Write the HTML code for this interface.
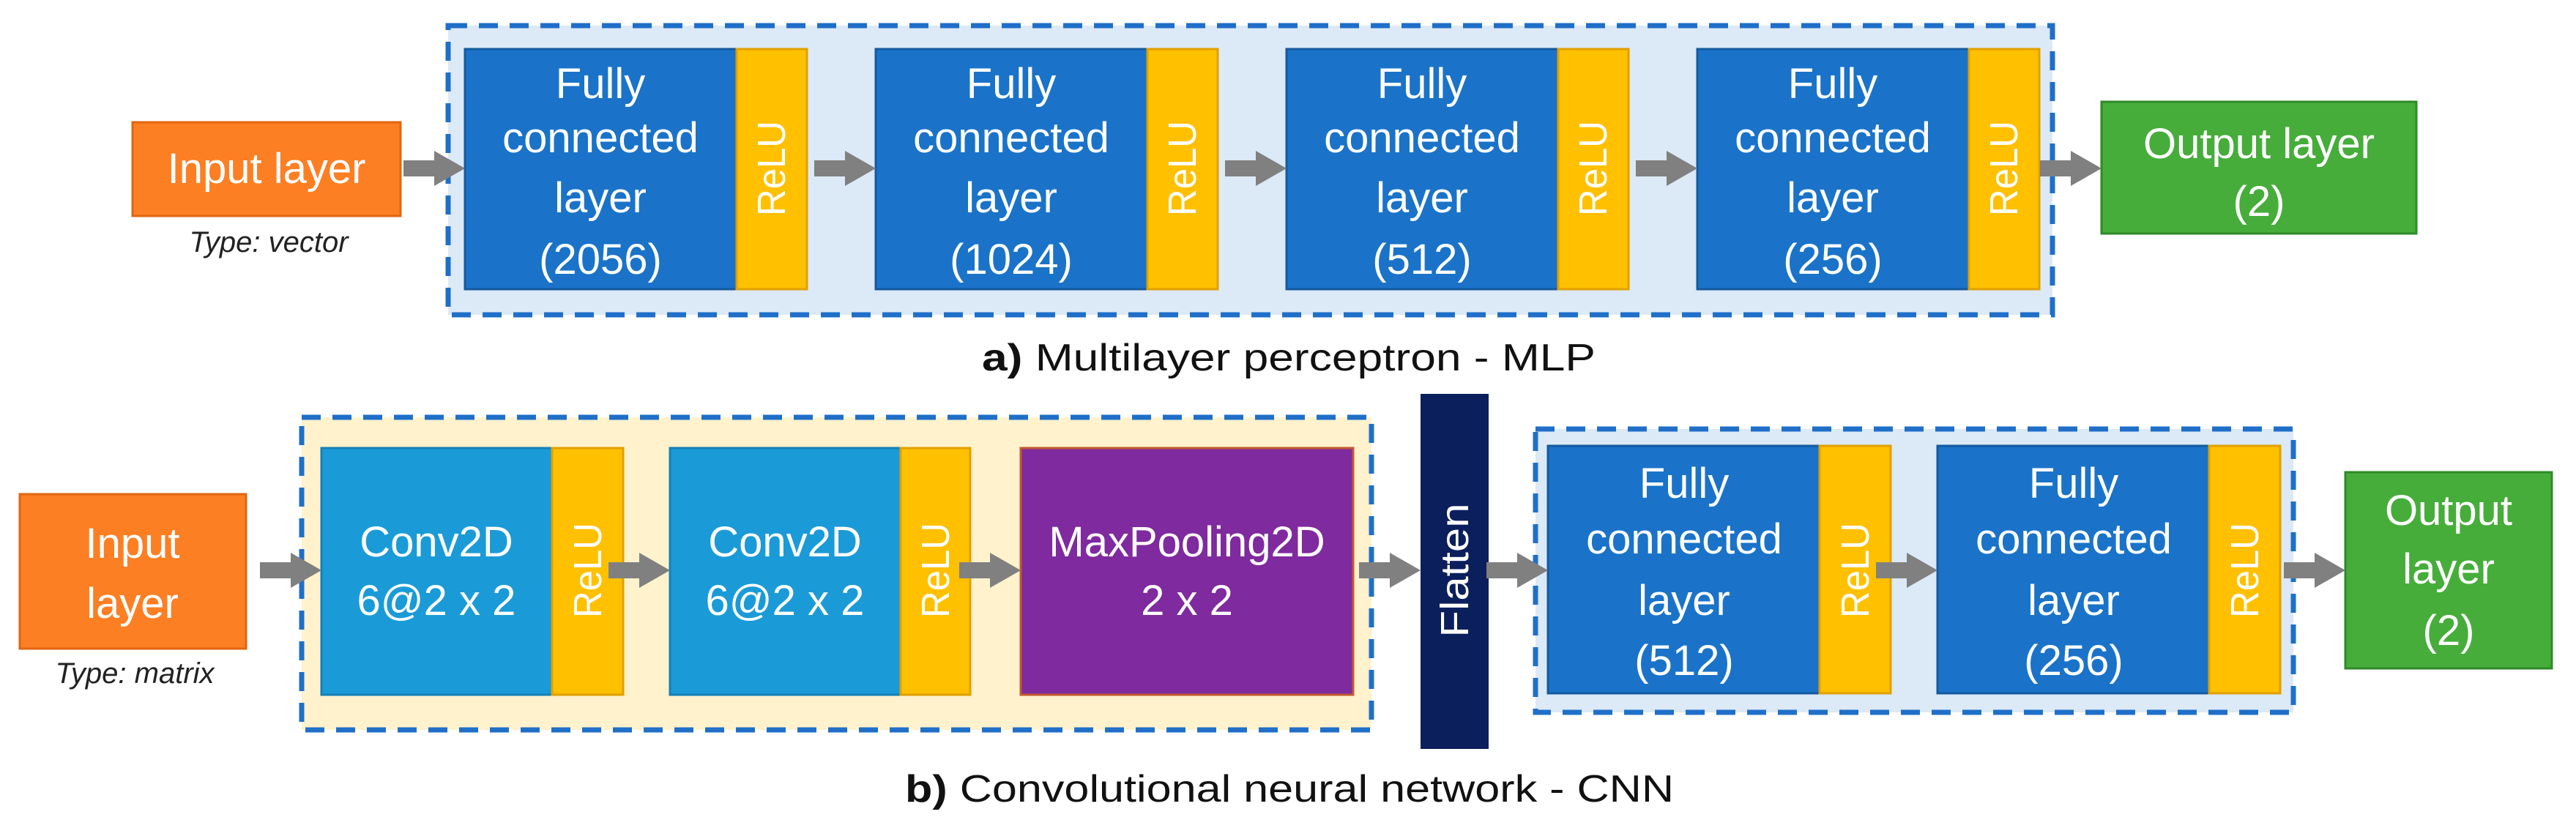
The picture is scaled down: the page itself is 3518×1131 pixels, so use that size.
<!DOCTYPE html>
<html><head><meta charset="utf-8"><style>
html,body{margin:0;padding:0;background:#fff;}
svg{display:block;}
text{font-family:"Liberation Sans",sans-serif;}
</style></head><body>
<svg width="3518" height="1131" viewBox="0 0 3518 1131" xmlns="http://www.w3.org/2000/svg">
<defs>
<g id="arr"><polygon points="0,-11 -42,-11 -42,11 0,11 0,-24 42,0 0,24" fill="#808080"/></g>
</defs>
<!-- MLP container -->
<rect x="612" y="35" width="2191" height="395" fill="#dce9f6" stroke="#1f6fc9" stroke-width="7" stroke-dasharray="26,16"/>
<!-- CNN yellow container -->
<rect x="412" y="570" width="1461" height="427" fill="#fff2cc" stroke="#1f6fc9" stroke-width="7" stroke-dasharray="26,16"/>
<!-- CNN blue container -->
<rect x="2097" y="586" width="1035" height="387" fill="#dce9f6" stroke="#1f6fc9" stroke-width="7" stroke-dasharray="26,16"/>

<!-- MLP -->
<rect x="181" y="167" width="366" height="128" fill="#fd7f23" stroke="#e0650f" stroke-width="3"/>
<text x="364" y="250" font-size="58" fill="#fff" text-anchor="middle">Input layer</text>
<text x="367" y="344" font-size="40" font-style="italic" fill="#222" text-anchor="middle">Type: vector</text>

<g font-size="58" fill="#fff" text-anchor="middle">
<rect x="635" y="67" width="371" height="328" fill="#1a73c8" stroke="#145aa0" stroke-width="3"/>
<rect x="1006" y="67" width="96" height="328" fill="#ffc000" stroke="#e0a000" stroke-width="3"/>
<text x="820" y="134">Fully</text><text x="820" y="208">connected</text><text x="820" y="290">layer</text><text x="820" y="374">(2056)</text>
<rect x="1196" y="67" width="371" height="328" fill="#1a73c8" stroke="#145aa0" stroke-width="3"/>
<rect x="1567" y="67" width="96" height="328" fill="#ffc000" stroke="#e0a000" stroke-width="3"/>
<text x="1381" y="134">Fully</text><text x="1381" y="208">connected</text><text x="1381" y="290">layer</text><text x="1381" y="374">(1024)</text>
<rect x="1757" y="67" width="371" height="328" fill="#1a73c8" stroke="#145aa0" stroke-width="3"/>
<rect x="2128" y="67" width="96" height="328" fill="#ffc000" stroke="#e0a000" stroke-width="3"/>
<text x="1942" y="134">Fully</text><text x="1942" y="208">connected</text><text x="1942" y="290">layer</text><text x="1942" y="374">(512)</text>
<rect x="2318" y="67" width="371" height="328" fill="#1a73c8" stroke="#145aa0" stroke-width="3"/>
<rect x="2689" y="67" width="96" height="328" fill="#ffc000" stroke="#e0a000" stroke-width="3"/>
<text x="2503" y="134">Fully</text><text x="2503" y="208">connected</text><text x="2503" y="290">layer</text><text x="2503" y="374">(256)</text>
<rect x="2870" y="139" width="430" height="180" fill="#46ad3a" stroke="#2e8a28" stroke-width="3"/>
<text x="3085" y="216">Output layer</text><text x="3085" y="295">(2)</text>
</g>
<g font-size="54" fill="#fff" text-anchor="middle">
<text transform="translate(1072,230) rotate(-90)" textLength="130" lengthAdjust="spacingAndGlyphs">ReLU</text>
<text transform="translate(1633,230) rotate(-90)" textLength="130" lengthAdjust="spacingAndGlyphs">ReLU</text>
<text transform="translate(2194,230) rotate(-90)" textLength="130" lengthAdjust="spacingAndGlyphs">ReLU</text>
<text transform="translate(2755,230) rotate(-90)" textLength="130" lengthAdjust="spacingAndGlyphs">ReLU</text>
</g>
<use href="#arr" x="593" y="230"/>
<use href="#arr" x="1154" y="230"/>
<use href="#arr" x="1715" y="230"/>
<use href="#arr" x="2276" y="230"/>
<use href="#arr" x="2828" y="230"/>
<text x="1760" y="506" font-size="52" fill="#111" text-anchor="middle" textLength="838" lengthAdjust="spacingAndGlyphs"><tspan font-weight="bold">a)</tspan> Multilayer perceptron - MLP</text>

<!-- CNN -->
<rect x="27" y="675" width="309" height="211" fill="#fd7f23" stroke="#e0650f" stroke-width="3"/>
<g font-size="58" fill="#fff" text-anchor="middle">
<text x="181" y="762">Input</text><text x="181" y="844">layer</text>
</g>
<text x="184" y="933" font-size="40" font-style="italic" fill="#222" text-anchor="middle">Type: matrix</text>

<g font-size="58" fill="#fff" text-anchor="middle">
<rect x="439" y="612" width="315" height="337" fill="#1a9bd7" stroke="#1480b8" stroke-width="3"/>
<rect x="754" y="612" width="97" height="337" fill="#ffc000" stroke="#e0a000" stroke-width="3"/>
<text x="596" y="760">Conv2D</text><text x="596" y="840">6@2 x 2</text>
<rect x="915" y="612" width="315" height="337" fill="#1a9bd7" stroke="#1480b8" stroke-width="3"/>
<rect x="1230" y="612" width="95" height="337" fill="#ffc000" stroke="#e0a000" stroke-width="3"/>
<text x="1072" y="760">Conv2D</text><text x="1072" y="840">6@2 x 2</text>
<rect x="1394" y="612" width="454" height="337" fill="#7f2a9e" stroke="#c05a30" stroke-width="3"/>
<text x="1621" y="760">MaxPooling2D</text><text x="1621" y="840">2 x 2</text>
<rect x="1940" y="538" width="93" height="485" fill="#0b1f5c"/>
<rect x="2114" y="609" width="371" height="338" fill="#1a73c8" stroke="#145aa0" stroke-width="3"/>
<rect x="2485" y="609" width="97" height="338" fill="#ffc000" stroke="#e0a000" stroke-width="3"/>
<text x="2300" y="680">Fully</text><text x="2300" y="756">connected</text><text x="2300" y="840">layer</text><text x="2300" y="922">(512)</text>
<rect x="2646" y="609" width="371" height="338" fill="#1a73c8" stroke="#145aa0" stroke-width="3"/>
<rect x="3017" y="609" width="97" height="338" fill="#ffc000" stroke="#e0a000" stroke-width="3"/>
<text x="2832" y="680">Fully</text><text x="2832" y="756">connected</text><text x="2832" y="840">layer</text><text x="2832" y="922">(256)</text>
<rect x="3203" y="645" width="282" height="268" fill="#46ad3a" stroke="#2e8a28" stroke-width="3"/>
<text x="3344" y="717">Output</text><text x="3344" y="797">layer</text><text x="3344" y="881">(2)</text>
</g>
<g font-size="54" fill="#fff" text-anchor="middle">
<text transform="translate(821,779) rotate(-90)" textLength="130" lengthAdjust="spacingAndGlyphs">ReLU</text>
<text transform="translate(1296,779) rotate(-90)" textLength="130" lengthAdjust="spacingAndGlyphs">ReLU</text>
<text transform="translate(2552,779) rotate(-90)" textLength="130" lengthAdjust="spacingAndGlyphs">ReLU</text>
<text transform="translate(3084,779) rotate(-90)" textLength="130" lengthAdjust="spacingAndGlyphs">ReLU</text>
<text transform="translate(2005,779) rotate(-90)" textLength="183" lengthAdjust="spacingAndGlyphs">Flatten</text>
</g>
<use href="#arr" x="397" y="779"/>
<use href="#arr" x="873" y="779"/>
<use href="#arr" x="1352" y="779"/>
<use href="#arr" x="1898" y="779"/>
<use href="#arr" x="2072" y="779"/>
<use href="#arr" x="2604" y="779"/>
<use href="#arr" x="3161" y="779"/>
<text x="1761" y="1095" font-size="52" fill="#111" text-anchor="middle" textLength="1050" lengthAdjust="spacingAndGlyphs"><tspan font-weight="bold">b)</tspan> Convolutional neural network - CNN</text>
</svg>
</body></html>
